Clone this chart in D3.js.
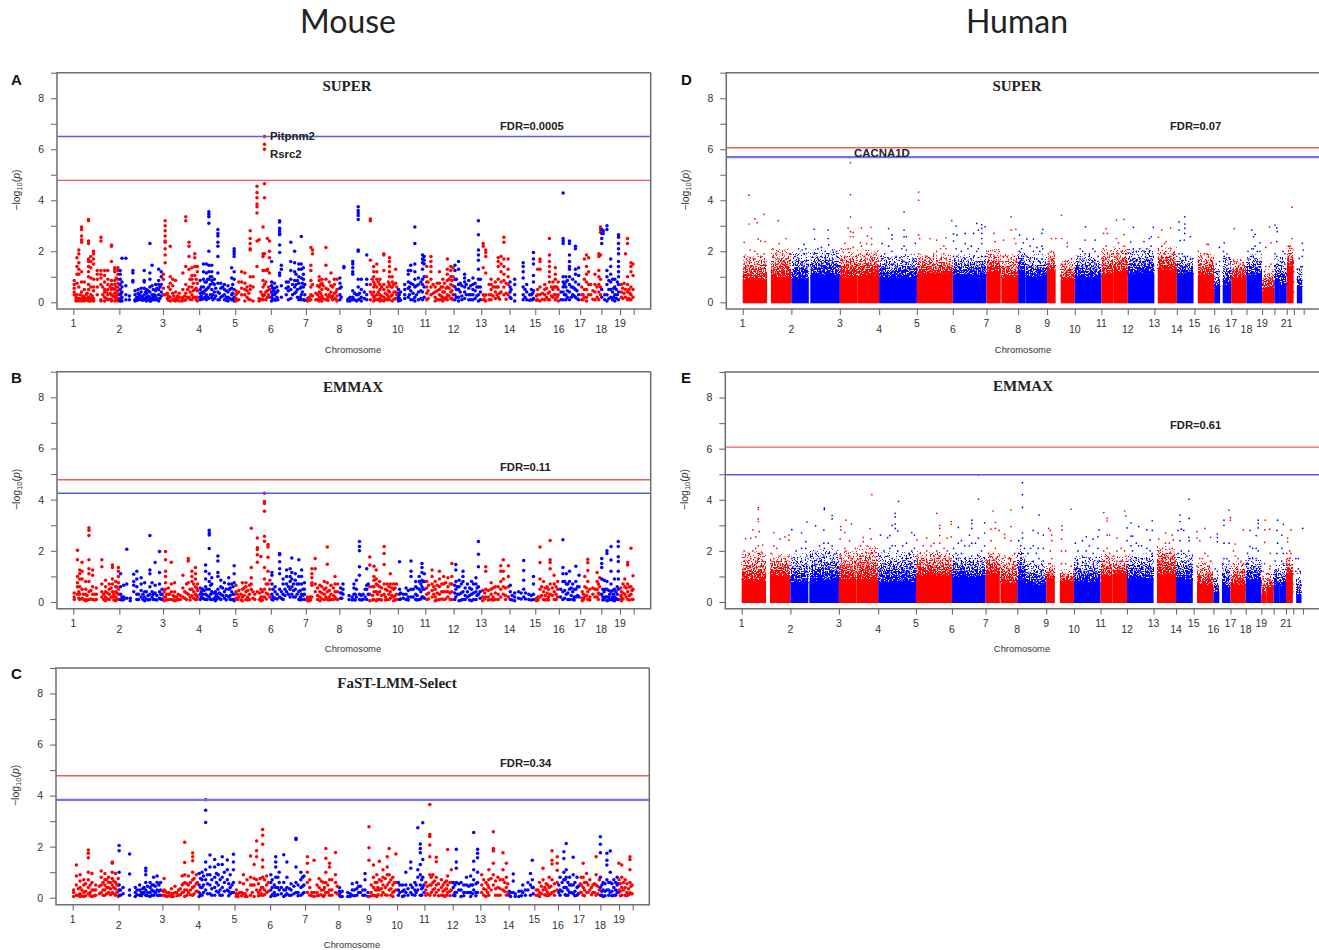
<!DOCTYPE html>
<html lang="en">
<head>
<meta charset="utf-8">
<title>Mouse and human Manhattan plots</title>
<script src="https://d3js.org/d3.v7.min.js"></script>
<style>
  body { margin: 0; background: #fff; }
  text { font-family: "Liberation Sans", Arial, sans-serif; }
</style>
</head>
<body>
<div id="chart"></div>
<script>
// chromosome lengths along the axis, in Mb as spaced in the figure
var mouseLen = [195,185,153,153,151,148,142,129,119,116,120,117,120,109,100,90,90,79,58];
var humanLen = [249,248,201,193,184,172,162,148,142,136,135,136,115,90,101,87,78,80,63,63,37,50];
var mouseLabels = d3.range(1, 20);
var humanLabels = d3.range(1, 22).filter(function (c) { return c != 20; });

// points: [chromosome.fraction, y, y, y ...], one stack per column
var mouseSuper = [
[1.02,.85,.7,.55,.4,.3],[1.06,.2,.1,.05],[1.08,1.75,1.4,1.1,.75,.3,.1],[1.12,2.05,1.9,1.55,1.3,1.1,.6,.15,.05],
[1.18,2.95,2.85,2.6,2.45,2.35,1.2,.8,.4,.15,.05],[1.24,.8,.5,.2,.1,.05],[1.33,3.25,3.2,2.4,2.3,1.7,1.6,1.4,1.2,1,.7,.5,.2,.1,.05],
[1.38,1.8,1.6,1.35,.95,.6,.3,.15,.05],[1.44,2,1.9,1.7,1.5,.9,.6,.45,.15,.05],[1.52,1.25,1.1,.9,.6,.3],[1.6,2.55,2.4,1.25,1.1,.95,.7,.1,.05],
[1.68,1.25,1.05,.8,.5,.4,.2,.05],[1.75,1.25,.9,.7,.5,.3,.1],[1.83,2.25,2.2,1.6,.85,.7,.5,.3,.1,.05],[1.9,1.35,1.3,1.2,.85,.7,.5,.35,.2,.05],
[1.97,1.35,1.25,1.1,.9,.75,.6,.45,.3,.15,.05],
[2.02,1.25,1.1,.9,.7,.5,.3,.15,.05],[2.06,1.73,.8,.6,.4,.2,.05],[2.15,1.73,.65,.3,.1],[2.23,.25,.1],[2.31,1.25,1.15,.85,.8],[2.36,.45,.3,.1,.05],
[2.43,.5,.35,.2,.1],[2.5,.55,.4,.25,.1],[2.57,1.25,.85,.8,.55,.3,.1],[2.62,.5,.35,.2,.05],[2.7,2.3,1.15,.9,.6,.4,.2,.05],[2.75,1.45,.65,.3,.1],
[2.83,.7,.45,.25,.1],[2.9,1.3,.85,.7,.5,.3,.05],[2.96,1.2,1,.7,.4,.25],
[3.01,1.1,.9,.55,.3],[3.06,3.2,3,2.8,2.6,2.4,2.35,2.1,1.85,1.55,.3],[3.12,.35,.15],[3.2,2.2,1,.75,.5,.2,.05],[3.27,.9,.65,.35,.1],[3.35,.85,.4,.15,.05],
[3.45,.35,.2,.05],[3.53,.15,.05],[3.55,1.15,.5,.2],[3.63,3.35,3.2,1.4,.7,.35,.1],[3.72,2.35,2.2,1.8,1.3,.6,.2],[3.8,1.35,1.05,.9,.6,.3,.1],
[3.88,1.9,1.75,1.4,1.05,.5,.2],[3.95,1.4,1.2,.75,.45,.2,.05],
[4.03,.85,.5,.35,.2,.1],[4.12,1.5,1.2,.9,.6,.35,.15],[4.2,1.5,1.15,.8,.5,.3,.1],[4.27,3.55,3.45,3.35,3.1,2,1.45,1.2,.9,.6,.15],[4.35,1.45,1.2,1,.85,.5,.2],
[4.42,.9,.7,.4,.15],[4.52,2.85,2.7,2.6,2.35,2.2,1.8,1.15,.75,.4,.1],[4.6,.75,.55,.2],[4.7,.7,.5,.3,.1],[4.8,.65,.4,.2,.05],[4.9,1.35,.95,.55,.3,.1],
[4.97,2.1,2,1.9,1.8,1.2,.9,.5,.2,.05],
[5.02,.45,.3,.15,.05],[5.1,.8,.4,.1],[5.18,1.2,.8,.55,.3],[5.27,1.15,.75,.5,.3,.05],[5.33,.6,.45,.2],[5.42,2.8,2.5,2.3,2.1,2.05,1,.65,.5,.1],[5.5,1,.6,.05],
[5.61,4.55,4.3,4.1,3.85,3.75,3.5,2.4,1.4],[5.67,2.45,.15,.05],[5.78,2.95,1.9,1.8,1.25,.85,.6,.25,.1],[5.82,6.5,6.2,6,4.65,4.1,1.9,1.25,.7,.3],
[5.9,2.5,1.3,1.25,.45,.2],[5.96,2.4,2,1.75,1.15,.5,.2],
[6.02,1.6,.8,.65,.4,.2,.05],[6.1,.75,.55,.3,.1],[6.17,.6,.4,.2],[6.25,3.2,3.15,2.9,2.8,2.7,2.65,2.25,1.95,1.15,1.05],[6.3,1.45,1.3,.65,.2],[6.44,.8,.55,.3],
[6.5,.8,.6,.45,.1],[6.57,2.35,1.6,1.25,.9,.5,.15],[6.68,2,1.55,1.2,.85,.6,.35],[6.8,1.5,1.3,1,.75,.1],[6.87,2.58,1.5,1.3,.95,.6,.3,.1],[6.93,1.35,1.1,.9,.6,.1],
[7.05,.15,.05,.1],[7.15,2.15,1.45,1.25,.85,.6,.3,.1],[7.2,2.05,1.9,.7,.25],[7.3,.35,.1],[7.4,1,.85,.6,.4,.2,.05],[7.48,.9,.75,.5,.25,.05],[7.6,2.15,1.45,.9,.55,.3,.1],
[7.75,1.15,.65,.4,.2],[7.85,.9,.7,.35,.15],[7.93,.9,.5,.25,.05],
[8.02,.95,.75,.55,.3,.1],[8.15,1.4,1.35],[8.35,.2,.1,.05],[8.44,1.6,1.5,1.35,1.2,1.1,.45,.2,.1],[8.62,3.75,3.6,3.5,3.4,3.25,2.05,2,.9,.6,.3,.1],[8.72,.9,.5,.2,.05],
[8.9,1.85,.9,.7,.3,.1],
[9.02,3.27,3.2,1.65,.7,.4,.1],[9.14,1.4,1.2,1,.8,.6,.4,.2,.05],[9.25,1.5,1.2,.9,.6,.3,.1],[9.36,.9,.7,.5,.3,.15,.05],[9.5,1.9,1.85,1.25,.7,.5,.2,.05],[9.62,.6,.3,.1],
[9.7,1.75,1.6,1.4,1.2,1,.7,.4,.1],[9.8,1,.8,.6,.3,.05],[9.92,1.3,.75,.4,.15],
[10.02,.5,.35,.2,.1,.05],[10.25,.7,.5,.3,.15],[10.38,1.25,1.1,.8,.55,.2],[10.47,1.45,1.25,.75,.45,.1],[10.62,2.95,2.3,1.5,1.2,.9,.6,.2,.05],[10.75,.95,.7,.4,.1],
[10.9,1.85,1.7,1.55,1.3,.9,.7,.4,.1],[10.96,1.8,1.65,1.5,1,.6,.2],
[11.05,1.4,1,.8,.6,.35,.1],[11.2,1.8,1.6,1.4,1.2,.9,.6,.3],[11.35,.6,.4,.2,.05],[11.5,1.2,.75,.5,.3,.1],[11.62,.9,.6,.4,.2,.05],[11.78,1.7,1.3,1.1,.85,.6,.3,.1],
[11.9,1.4,1.25,1,.7,.4,.15],[11.98,1.35,1,.65,.3,.1],
[12.05,1.45,1.25,.9,.6,.3,.1],[12.18,1.6,1.3,.7,.5,.2,.05],[12.4,1.1,.95,.8,.6,.4,.15],[12.55,.85,.55,.3,.1],[12.7,.95,.7,.5,.3,.1],[12.9,3.2,2.65,2.05,1.85,1.65,1.3,.9,.6,.3,.05],[12.97,.9,.6,.4,.1],
[13.07,2.3,2.2,1.35,.3,.1],[13.16,2.05,1.95,1.8,1.15,.3,.05],[13.35,.9,.7,.5,.3,.1],[13.5,.8,.6,.4,.15],[13.6,1.75,1.6,1.4,.9,.6,.2],[13.7,1.8,1.5,1.2,.8,.4],
[13.8,2.55,2.35,1.7,1.4,1.1,.85,.6,.3],[13.95,1.7,1.3,1,.7,.3],
[14.02,.8,.6,.4,.2],[14.2,.9,.7,.3,.05],[14.53,1.55,1.4,1.2,.95,.6,.3,.1],[14.67,.7,.4,.1],[14.85,.5,.3,.1],[14.93,1.95,1.7,1.5,1.05,.8,.45,.15],
[15.1,1.3,.5,.3,.1],[15.2,1.7,1.6,1.3,.6,.3,.05],[15.4,.7,.5,.3,.1],[15.6,2.5,1.85,1.6,1.4,1.2,1,.8,.4,.1],[15.75,.8,.5,.2],[15.85,1.35,1.1,.9,.6,.3,.1],[15.97,.8,.5,.3,.05],
[16.2,4.28,2.5,2.4,2.3,1,.8,.6,.4,.1],[16.33,1,.8,.6,.3,.1],[16.5,2.4,2.3,1.85,1.6,1.4,1.3,1,.7,.4,.1],[16.65,.9,.6,.3],[16.78,2.2,2.1,1.3,1.1,.8,.5,.2],[16.93,1.35,1.05,.7,.3,.1],
[17.08,.6,.3,.1],[17.2,1.7,.9,.5,.2],[17.3,1.85,1.4,1.1,.8,.5,.2,.05],[17.4,1.75,1.2,.7,.3],[17.7,1.1,.7,.4,.1],[17.88,1.9,1.8,1.25,1,.7,.4,.1],[17.96,2.95,2.85,2.75,1.85,.9,.6,.3],
[18.02,2.85,2.7,2.5,2.3,.5,.2],[18.1,2.8,2.7],[18.3,3,2.85,1.25,1,.7,.3,.05],[18.5,1.7,1.4,1.1,.8,.5,.2],[18.72,.9,.6,.3,.05],[18.92,2.65,2.55,2.3,2.1,1.9,1.6,1.4,1.2,1,.7,.4,.1],
[19.1,.7,.4,.2],[19.4,1.9,.5,.2],[19.55,2.5,2.3,1,.7,.4,.1],[19.8,1.55,1.4,1.2,.6,.3,.1],[19.95,1.5,1.05,.5,.2]
];

// lower cloud of panel A, read between the stacks above
var mouseSuperLow = [
[1.15,.3,.1],[1.21,.25,.12],[1.28,.3,.08],[1.3,.15,.35],[1.41,.25,.1],[1.64,.6,.3],[1.72,.4,.15],[1.8,.6,.35,.12],[1.86,.55,.25],[1.93,.95,.6,.25,.1],[1.95,.4,.15],
[2.04,.35,.1],[2.4,.2,.08],[2.46,.3,.12],[2.53,.2,.08],[2.6,.4,.15],[2.66,.45,.25,.1],[2.72,.15,.05],[2.78,.5,.2],[2.8,.3,.1],[2.86,.55,.15],[2.93,.6,.15],
[3.15,.6,.25,.08],[3.3,.25,.08],[3.4,.25,.1],[3.6,.25,.08],[3.68,.5,.2],[3.75,.9,.4,.12],[3.84,.75,.45,.2],[3.92,.9,.55,.1],
[4.06,.6,.25],[4.09,.4,.12],[4.16,.8,.45,.2],[4.24,.9,.55,.2],[4.31,1,.7,.3],[4.38,.75,.3,.1],[4.46,.55,.25],[4.56,.35,.1],[4.65,.6,.25],[4.75,.45,.2,.08],[4.85,.5,.15],[4.93,.7,.35,.12],
[5.05,.35,.1],[5.38,.35,.12],[5.72,.4,.1],[5.76,.3,.12],[5.86,.8,.4,.1],[5.94,.6,.3],
[6.05,.55,.3,.1],[6.08,.45,.12],[6.13,.35,.08],[6.2,.45,.1],[6.62,.7,.3],[6.72,1.1,.7,.4],[6.76,.85,.5,.2],[6.84,.55,.2],[6.9,.75,.4],[6.97,.7,.3,.08],
[7.1,.2,.08],[7.35,.65,.3,.1],[7.44,.7,.35,.12],[7.52,.65,.15],[7.66,.5,.2,.08],[7.7,.8,.3],[7.8,.6,.25,.1],[7.9,.4,.12],
[8.06,.6,.2],[8.28,.12,.05],[8.5,.35,.1],[8.56,.3,.05],[8.66,.35,.12],[8.82,.4,.15],
[9.08,.9,.3],[9.18,.7,.25,.1],[9.3,.8,.4,.12],[9.42,.6,.25,.08],[9.55,.35,.12],[9.66,.8,.45,.2],[9.75,.6,.25],[9.86,.7,.4,.12],[9.96,.6,.3],
[10.05,.3,.15],[10.1,.4,.08],[10.42,.6,.3],[10.55,.7,.35,.1],[10.68,.65,.3],[10.84,.8,.45,.15],
[11.1,.8,.45,.15],[11.28,.7,.35],[11.42,.75,.45,.1],[11.56,.6,.25,.1],[11.68,.75,.4,.12],[11.74,.55,.2],[11.84,.9,.55,.25],[11.94,.85,.45,.15],
[12.1,.9,.5,.2],[12.24,.75,.4],[12.3,.65,.25,.1],[12.46,.7,.3],[12.62,.65,.3,.1],[12.78,.75,.45,.15],[12.84,.6,.25],
[13.12,.25,.1],[13.28,.7,.3,.1],[13.42,.6,.25],[13.56,.6,.3],[13.65,.35,.12],[13.88,.75,.35,.12],
[14.06,.5,.15],[14.6,.5,.2],[14.78,.3,.08],[14.9,.35,.1],
[15.05,.25,.08],[15.3,.35,.12],[15.48,.55,.2],[15.55,.35,.1],[15.68,.6,.25],[15.8,.6,.3],[15.92,.6,.2],
[16.1,.4,.1],[16.26,.7,.3],[16.4,.85,.45,.2],[16.58,.6,.2],[16.72,.55,.25],[16.85,.45,.15],
[17.14,.3,.1],[17.5,.7,.3],[17.6,.45,.12],[17.8,.6,.2],
[18.18,.3,.1],[18.4,.85,.5,.15],[18.6,.9,.4,.1],[18.66,.55,.2],[18.8,.5,.15],[18.86,.8,.3],
[19.2,.55,.15],[19.3,.75,.35],[19.65,.5,.15],[19.72,.35,.1]
];

var mouseEmmax = [
[1.02,.35,.2,.1],[1.09,2.02,1.65,1,.75,.6,.3],[1.14,1.25,1.1,.9,.6,.3,.1],[1.19,1.55,1.2,.9,.5,.15],[1.27,.8,.5,.3,.1,.05],[1.34,2.9,2.8,2.6,1.65,1.3,1.1,.8,.4,.1],
[1.42,1.25,1.05,.6,.3,.1],[1.5,.55,.3,.1],[1.62,1.65,1.38,.7,.4,.2],[1.7,.85,.6,.4,.2,.05],[1.78,.7,.5,.3,.1],[1.85,1.45,1.35,.9,.7,.4,.2],[1.92,.8,.6,.4,.2,.05],[1.98,1.35,1.2,1,.75,.5,.3,.1],
[2.03,1.1,.6,.3,.1],[2.1,.65,.2,.1],[2.17,2.06,.7,.15],[2.25,.15,.05],[2.33,1.08,.8,.65,.4],[2.4,1.2,.9,.6,.3,.1],[2.5,.95,.7,.45,.2],[2.58,.75,.4,.2,.05],[2.7,2.6,1.25,1.1,.6,.3,.1],
[2.75,.75,.4,.2],[2.82,1.54,.65,.35,.1],[2.92,1.97,1.15,.7,.4,.15],[2.98,.5,.3,.1],
[3.03,.4,.2,.05],[3.07,1.97,1.65,1.2,1,.75,.5,.2],[3.15,.55,.3,.1],[3.23,1.55,.7,.4,.1],[3.32,.75,.4,.2,.05],[3.42,.3,.1],[3.55,1.05,.55,.2],[3.65,.7,.35,.1],[3.7,1.7,1.6,.75,.3],
[3.8,1.2,1,.8,.5,.25],[3.9,1.35,1.1,.9,.6,.3,.1],[3.96,.7,.45,.2],
[4.03,.55,.3,.1],[4.1,.5,.3,.15],[4.18,1.45,1.2,.9,.6,.3,.1],[4.28,2.8,2.7,2.62,2.09,1.1,.8,.5,.2],[4.35,.95,.7,.4,.1],[4.45,.4,.2,.05],[4.52,1.8,1.6,1.15,1,.5,.2],
[4.6,.85,.6,.3,.1],[4.7,.75,.4,.15],[4.82,.95,.7,.5,.2],[4.9,.7,.4,.1],[4.97,1.42,1.1,.75,.3,.05],
[5.02,.65,.4,.15],[5.1,.45,.2],[5.2,.75,.5,.2,.05],[5.3,.75,.6,.4,.1],[5.4,.65,.3,.1],[5.45,2.88,1.35,.95,.7,.5],[5.55,.3,.1],[5.62,2.5,2.12,2.05,1.85,1.55,.4],
[5.72,1.78,.5,.2,.05],[5.82,4.25,3.93,3.85,3.55,2.57,2.37,1.35,.9,.5,.2],[5.92,2.25,2.15,1.75,1.2,.7,.3],[5.97,.85,.5,.2],
[6.03,1.15,1.05,.7,.3,.1],[6.12,.6,.4,.15],[6.25,1.9,1.85,1.57,1.3,1.1,.5,.2],[6.35,.9,.7,.3,.1],[6.45,1.25,1,.7,.4],[6.55,1.3,1,.8,.5,.2],[6.6,1.72,1.15,.9,.6,.3],[6.7,1.1,.85,.5,.2],
[6.8,1.65,1,.7,.4,.1],[6.88,1.25,1,.7,.3,.1],[6.96,.75,.5,.3,.1],
[7.05,.2,.1,.05],[7.18,1.3,1.1,.95,.75,.65,.2],[7.28,1.7,1.3,.7,.4],[7.42,.65,.4,.2,.05],[7.55,.8,.5,.3,.1],[7.64,2.15,1.48,.75,.4,.1],[7.75,.65,.3,.1],[7.87,1,.7,.4,.2],[7.95,.7,.4,.1],
[8.04,.55,.35,.15],[8.12,.7,.5,.3],[8.32,.25,.1],[8.48,.7,.55,.3,.1],[8.56,.85,.5,.2],[8.66,2.36,2.17,2,1.38,1.05,.3,.1],[8.78,.3,.1],[8.9,1.3,.65,.5,.1],
[9,1.76,1.45,.6,.3,.05],[9.15,1.4,1,.85,.6,.4,.1],[9.23,1.25,.9,.7,.4,.05],[9.35,.8,.6,.4,.1],[9.51,2.17,1.9,1.47,.7,.3],[9.62,.7,.45,.1],[9.73,1.1,.7,.4,.15],[9.85,.7,.5,.2,.05],[9.95,.7,.3,.1],
[10.06,1.57,.5,.3,.1],[10.3,.55,.3,.1],[10.48,1.6,1.2,1,.5,.2],[10.65,.8,.6,.3,.1],[10.78,1,.8,.5,.1],[10.88,1.5,1.35,1.15,.85,.6,.2],[10.97,1.1,.8,.5,.15],
[11.05,.8,.55,.3,.1],[11.24,1.25,1,.7,.45,.2],[11.35,.8,.5,.2,.05],[11.5,1.2,.9,.6,.3,.1],[11.65,1,.7,.4,.1],[11.8,.95,.6,.4,.2],[11.94,1.5,1,.7,.4,.1],
[12.08,1.47,1.25,.8,.5,.2],[12.2,.85,.6,.3,.05],[12.34,1.2,1,.8,.4,.1],[12.5,.7,.4,.2],[12.65,.8,.5,.3,.05],[12.81,.95,.7,.4,.1],[12.9,2.36,1.87,1.38,.6,.3],
[13.05,.45,.2,.05],[13.16,1.38,1.2,.5,.2],[13.35,.75,.5,.3,.1],[13.5,.6,.35,.1],[13.69,1.42,1.2,.8,.5,.2],[13.78,1.65,1.2,.9,.6,.3],[13.96,1.42,1,.6,.2],
[14.03,.65,.4,.1],[14.2,.35,.2,.05],[14.35,.4,.15],[14.55,1.62,1.23,.85,.5,.2],[14.75,.3,.1],[14.93,1,.7,.3,.1],
[15.05,.15,.05],[15.2,2.15,1.54,.9,.5,.2],[15.35,.8,.4,.1],[15.5,.6,.35,.1],[15.63,2.4,1.65,1.54,1.3,.7,.3],[15.8,1.05,.7,.4,.1],[15.95,.8,.5,.2],
[16.19,2.43,1.35,1.1,.8,.4,.1],[16.35,1.1,.7,.3],[16.5,1.2,.8,.5,.1],[16.65,.7,.4,.1],[16.8,1.4,.8,.5,.2],[16.95,1.05,.6,.2],
[17.1,.4,.15,.05],[17.22,1,.6,.2],[17.36,1.67,1.53,1.23,.8,.4,.1],[17.6,.55,.3],[17.8,1.15,.8,.5,.2],[17.92,.95,.6,.3],
[18.02,1.7,1.5,1.35,.9,.3],[18.15,.85,.4,.1],[18.3,2,1.9,.8,.5,.2,.05],[18.52,2.17,1.64,1.2,.7,.4,.1],[18.7,.9,.5,.2,.05],[18.91,2.36,2.17,1.77,1.58,1.2,.9,.5,.1],
[19.1,.4,.2,.05],[19.35,.9,.6,.3],[19.56,1.54,1.45,.7,.4,.1],[19.8,2.1,.6,.3],[19.95,1.03,.5,.1]
];

var mouseEmmaxLow = [
[1.12,.4,.15],[1.22,.3,.1],[1.3,.25,.08],[1.38,.45,.12],[1.46,.3,.08],[1.66,.3,.1],[1.74,.35,.12],[1.82,.55,.2],[1.88,.3,.08],[1.95,.6,.35,.12],
[2.06,.2,.08],[2.44,.3,.1],[2.54,.3,.1],[2.62,.4,.12],[2.66,.25,.08],[2.78,.3,.1],[2.86,.25,.08],[2.95,.3,.12],
[3.1,.3,.08],[3.18,.3,.1],[3.28,.25,.08],[3.38,.2,.08],[3.48,.25,.1],[3.6,.4,.15],[3.75,.5,.2,.08],[3.85,.7,.4,.15],[3.93,.55,.25,.1],
[4.06,.4,.2],[4.14,.45,.12],[4.22,.5,.25,.1],[4.32,.65,.3,.1],[4.4,.35,.12],[4.48,.3,.1],[4.56,.35,.15],[4.65,.55,.25],[4.75,.5,.25,.08],[4.86,.55,.25,.1],[4.94,.6,.3,.1],
[5.06,.3,.1],[5.16,.3,.08],[5.25,.55,.25],[5.35,.45,.2,.08],[5.5,.4,.15],[5.68,.35,.1],[5.76,.4,.2,.08],[5.87,.7,.35,.12],
[6.06,.5,.2,.08],[6.18,.3,.12],[6.3,.4,.15],[6.4,.5,.25],[6.5,.6,.3],[6.65,.7,.45,.2],[6.75,.7,.3],[6.84,.45,.2,.08],[6.92,.5,.25],
[7.1,.15,.05],[7.14,.2,.08],[7.35,.55,.25,.1],[7.48,.6,.35,.12],[7.6,.55,.2],[7.7,.45,.2,.08],[7.82,.55,.25,.1],[7.9,.4,.12],
[8.08,.35,.15],[8.42,.2,.08],[8.52,.3,.08],[8.72,.25,.08],[8.85,.5,.2],[8.95,.7,.3],
[9.1,.6,.25,.08],[9.28,.65,.3,.1],[9.42,.55,.25,.08],[9.56,.5,.2,.08],[9.68,.6,.3,.1],[9.78,.55,.25],[9.9,.55,.25,.08],
[10.1,.35,.12],[10.2,.15,.3],[10.38,.45,.2,.08],[10.56,.5,.2],[10.7,.55,.25,.08],[10.84,.7,.4,.12],[10.92,.8,.5,.2],
[11.12,.65,.35,.12],[11.3,.6,.3],[11.42,.65,.35,.08],[11.58,.7,.4,.12],[11.72,.75,.4,.12],[11.88,.7,.35,.1],
[12.04,.65,.35,.1],[12.14,.6,.3],[12.28,.7,.35,.08],[12.42,.55,.25,.1],[12.58,.55,.25,.08],[12.72,.7,.35,.1],[12.85,.55,.25],[12.96,.4,.15],
[13.12,.35,.12],[13.25,.45,.2,.08],[13.42,.55,.2,.08],[13.6,.6,.3,.1],[13.86,.55,.25,.1],
[14.1,.25,.08],[14.45,.35,.12],[14.62,.35,.12],[14.85,.25,.08],
[15.12,.2,.08],[15.27,.6,.25],[15.42,.55,.25,.08],[15.56,.5,.2,.08],[15.72,.55,.25],[15.88,.6,.3,.1],
[16.08,.5,.2],[16.27,.8,.45,.15],[16.42,.7,.35,.1],[16.58,.55,.25],[16.72,.5,.2,.08],[16.88,.6,.25],
[17.16,.3,.1],[17.3,.55,.25],[17.46,.5,.2,.08],[17.7,.5,.2],[17.86,.7,.35,.1],
[18.08,.5,.2,.08],[18.22,.5,.2],[18.4,.45,.2,.08],[18.45,.3,.12],[18.6,.45,.2,.08],[18.65,.3,.1],[18.78,.4,.15],[18.85,.6,.3,.1],
[19.05,.55,.25,.1],[19.22,.7,.35,.12],[19.45,.55,.2],[19.68,.6,.25,.08],[19.88,.45,.1]
];

var mouseFast = [
[1.02,.3,.2,.05],[1.08,1.28,.85,.5,.1],[1.16,.9,.65,.4,.15,.05],[1.24,.7,.5,.2,.05],[1.34,1.87,1.74,1.57,1,.7,.4,.15],[1.42,.95,.6,.3,.05],[1.5,.5,.3,.1],[1.62,1.05,.8,.5,.2],
[1.7,.95,.7,.5,.3,.1],[1.78,.8,.6,.4,.2],[1.86,1.4,1.35,1,.75,.5,.2],[1.93,.95,.6,.35,.1],[1.99,.75,.5,.25,.05],
[2.01,2.05,1.84,1,.5,.3,.1],[2.1,.4,.15],[2.25,1.71,.93,.3,.1],[2.38,.4,.2,.05],[2.48,.5,.3,.1],[2.55,.35,.15],[2.62,1.15,1.05,.9,.6,.3,.1],[2.72,.6,.4,.2,.05],[2.8,.8,.5,.25,.1],[2.88,.85,.6,.3,.1],[2.96,.6,.3,.1],
[3.05,.75,.3,.1],[3.12,.2,.05],[3.25,.35,.15,.05],[3.35,.45,.2],[3.45,.3,.1],[3.55,.85,.5,.2],[3.62,2.17,1.38,.9,.6,.3,.05],[3.72,.85,.5,.2],[3.84,1.75,1.6,1.45,1,.7,.4,.1],[3.94,.9,.55,.25],
[4.02,.95,.5,.2,.05],[4.1,1,.7,.4,.1],[4.2,3.84,3.43,2.95,1.4,1.1,.7,.3],[4.32,1.67,1.2,.9,.5,.15],[4.45,1.5,1.2,.8,.4,.1],[4.55,1.3,.9,.5,.2],[4.66,1.6,1.3,.8,.4,.1],[4.8,1.48,1.1,.7,.3],[4.88,.9,.4,.15],[4.97,1.7,1.4,1.1,.6,.2],
[5.05,.3,.15,.05],[5.15,.6,.2],[5.25,.9,.55,.15],[5.35,.7,.3,.05],[5.45,1.63,.8,.5,.1],[5.55,1.3,.75,.5,.05],[5.62,2.22,1.84,1.6,.7,.3],[5.72,.75,.3,.1],[5.79,2.67,2.45,2.09,1.48,1.2,.8,.4,.1],[5.9,.85,.5,.2],
[6.02,.9,.6,.3,.05],[6.16,1.6,1.4,1.2,.8,.4,.1],[6.26,1,.6,.3],[6.39,1.68,.6,.3,.05],[6.48,1.4,.8,.4,.15],[6.6,.55,.3,.1],[6.74,2.33,2.28,1.2,.6,.2],[6.88,1,.7,.4,.1],[6.97,.85,.5,.2],
[7.07,1.6,1.35,1,.6,.2],[7.14,.7,.4,.1],[7.27,1.47,.2,.05],[7.42,.75,.4,.1],[7.55,.6,.3,.05],[7.62,1.93,1.55,1,.6,.2],[7.73,1.35,1.2,.7,.3,.1],[7.91,1.77,.9,.6,.2],
[8.03,.4,.25,.1],[8.12,.25,.05],[8.3,.2,.05],[8.45,.55,.3,.1],[8.6,.6,.35,.1],[8.72,.45,.2],[8.87,.95,.7,.3,.1],[8.97,.2,.05],
[9,2.78,1.96,1.47,.05],[9.16,1.28,.8,.4,.1],[9.28,.9,.6,.3,.05],[9.37,1.43,.7,.3],[9.5,1.1,.8,.5,.2],[9.65,1.6,1.2,.9,.5,.1],[9.72,1.93,.9,.6,.3],[9.85,.8,.5,.2,.05],[9.96,1.71,.6,.3],
[10.05,.6,.3,.1],[10.2,.5,.25,.05],[10.32,1,.5,.2],[10.5,1.4,1.15,.5,.2],[10.65,.6,.3,.1],[10.76,2.74,1.1,.8,.3],[10.85,2.1,1.93,1.76,1.3,.9,.5,.1],[10.94,2.94,1.5,.8,.4],
[11.05,.6,.3,.1],[11.19,3.65,2.48,2.4,2.06,1.6,.9,.5,.1],[11.3,.9,.6,.3],[11.42,1.58,1.41,.8,.5,.2],[11.6,.7,.4,.1],[11.72,.6,.3,.05],[11.82,1.89,.85,.5,.2],[11.95,1.1,.6,.3],
[12.02,.6,.4,.1],[12.13,1.9,1.4,1.15,.6,.2],[12.3,.6,.3,.05],[12.5,.8,.5,.2],[12.65,.85,.5,.2,.05],[12.76,2.55,1.43,1.1,.7,.3],[12.9,1.9,1.74,1.57,1,.6,.2],
[13.05,.9,.5,.2],[13.2,.6,.3,.05],[13.3,1.1,.7,.4,.1],[13.46,2.58,1.93,1.83,1.35,.9,.5],[13.62,.8,.4,.1],[13.8,1.76,1.1,.7,.3],[13.92,1.35,.8,.4,.1],
[14.02,.25,.1],[14.18,.93,.65,.2],[14.4,.25,.05],[14.55,.5,.2],[14.75,.6,.3],[14.85,.95,.5,.1],[14.92,1.47,.7,.4],
[15.08,.3,.1],[15.22,.6,.2,.05],[15.37,1.15,.7,.3],[15.5,.55,.3,.1],[15.63,.8,.4,.1],[15.75,1.84,1.47,1.32,.7,.2],[15.97,1.6,1.35,1.08,.6,.3],
[16.1,.8,.3,.1],[16.28,1.8,1.54,1,.7,.4],[16.39,2.12,1.1,.8,.4,.1],[16.55,.8,.5,.2],[16.72,1.58,.9,.5,.15],[16.9,.8,.4,.1],
[17.1,.8,.5,.2],[17.19,1.35,.8,.4,.1],[17.35,.95,.6,.2],[17.5,.7,.3],[17.65,.5,.2],[17.8,1.6,.9,.5,.1],[17.95,.7,.3],
[18,2.39,2.09,1.76,.8,.4,.1],[18.15,.6,.3,.05],[18.35,1.74,1.47,1.28,.7,.3],[18.53,1.83,1,.6,.2],[18.72,.7,.4,.1],[18.9,.8,.5,.2],
[19,1.35,.7,.3],[19.2,1.28,.8,.4,.1],[19.45,.7,.4,.1],[19.8,1.6,1.5,1.1,.6,.2],[19.95,.5,.15]
];

var mouseFastLow = [
[1.12,.35,.1],[1.2,.3,.08],[1.28,.55,.25,.08],[1.38,.5,.2,.08],[1.46,.3,.08],[1.58,.45,.15],[1.66,.6,.3,.1],[1.74,.7,.4,.15],[1.82,.6,.35,.12],[1.89,.65,.4,.15],[1.96,.5,.2],
[2.04,.3,.1],[2.42,.3,.12],[2.52,.2,.08],[2.58,.4,.2],[2.66,.45,.2,.08],[2.76,.5,.3,.1],[2.84,.45,.2],[2.92,.5,.25,.1],
[3.02,.25,.1],[3.08,.25,.08],[3.18,.2,.08],[3.3,.15,.05],[3.4,.2,.08],[3.5,.35,.12],[3.58,.55,.2],[3.68,.55,.3,.1],[3.78,.6,.3,.12],[3.88,.75,.45,.15],[3.97,.6,.25],
[4.06,.75,.4,.12],[4.14,.85,.5,.2],[4.25,.9,.55,.15],[4.37,.7,.35,.1],[4.5,.95,.6,.25],[4.6,.7,.3,.1],[4.72,1,.6,.25],[4.84,.55,.25,.08],[4.93,.5,.2],
[5.1,.15,.05],[5.2,.2,.08],[5.3,.15,.05],[5.5,.5,.2],[5.67,.55,.2,.08],[5.76,.4,.15],[5.84,.7,.3,.12],[5.95,.6,.25],
[6.06,.7,.4,.12],[6.12,.5,.2,.08],[6.22,.8,.4,.12],[6.32,.4,.15],[6.44,.3,.1],[6.55,.35,.1],[6.68,.45,.15],[6.8,.5,.2,.08],[6.93,.8,.45,.15],
[7.2,.2,.08],[7.36,.5,.2,.08],[7.48,.65,.3,.12],[7.58,.4,.1],[7.68,.5,.2],[7.8,.7,.3,.1],[7.96,.45,.15],
[8.06,.2,.05],[8.38,.15,.05],[8.52,.3,.08],[8.66,.45,.2],[8.8,.3,.1],
[9.08,.5,.2,.08],[9.22,.6,.3,.08],[9.32,.4,.12],[9.44,.65,.35,.1],[9.58,.75,.4,.12],[9.78,.7,.35,.1],[9.9,.6,.25],
[10.1,.5,.2],[10.26,.3,.08],[10.4,.35,.1],[10.56,.4,.12],[10.7,.5,.2],[10.9,.7,.35,.1],[10.98,.5,.2],
[11.1,.45,.15],[11.24,.8,.5,.2],[11.36,.65,.35,.1],[11.5,.55,.3,.08],[11.66,.5,.25,.1],[11.78,.65,.35,.1],[11.9,.6,.25,.08],
[12.08,.5,.2,.08],[12.22,.55,.3],[12.4,.5,.2,.08],[12.58,.45,.2],[12.72,.5,.15],[12.84,.55,.2,.08],
[13.12,.7,.35,.1],[13.26,.5,.2],[13.38,.75,.3],[13.54,.65,.35,.1],[13.7,.7,.35,.1],[13.86,.6,.25],[13.97,.55,.2],
[14.08,.2,.05],[14.26,.15,.05],[14.5,.25,.08],[14.65,.3,.1],[14.96,.4,.15],
[15.15,.3,.1],[15.3,.45,.15],[15.44,.4,.12],[15.56,.5,.2,.08],[15.7,.45,.15],[15.85,.55,.25,.1],
[16.04,.5,.2],[16.2,.6,.25],[16.34,.7,.4,.12],[16.47,.6,.3,.1],[16.63,.5,.2],[16.8,.6,.25,.08],[16.96,.45,.15],
[17.05,.55,.2],[17.25,.6,.3,.08],[17.42,.5,.2],[17.58,.4,.12],[17.72,.55,.2],[17.88,.45,.15],
[18.08,.5,.25,.1],[18.25,.55,.25,.08],[18.45,.6,.3,.1],[18.62,.55,.25,.08],[18.82,.6,.3,.1],[18.96,.55,.2],
[19.1,.55,.25,.08],[19.33,.6,.3],[19.58,.55,.2,.08],[19.7,.35,.12],[19.88,.45,.15]
];

// human dense part: [from, to, top of solid mass, top of thinning scatter]
var humanSuperBands = [
[1,1.5,1,1.9],[1.58,2,1.1,2.1],[2,2.36,1.05,2],[2.39,3,1.2,2.1],[3,3.45,1.1,2.1],[3.45,4,1.15,2.1],[4,5,1.1,1.9],[5,6,1.25,1.9],[6,7,1.2,1.9],
[7,7.45,1.3,2.1],[7.47,8,1.1,1.9],[8,8.25,1.35,2.1],[8.25,9,1.1,1.9],[9,9.31,1.4,2],[9.49,10,1,1.7],[10,11,1.1,1.9],[11,11.45,1.25,2.1],[11.45,12,1.3,2.2],
[12,13,1.25,2.1],[13.15,14,1.4,2.2],[14,14.95,1.25,1.8],[15.17,16,1.2,2],[16,16.35,.65,1.5],[16.5,17,.8,1.9],[17,18,1.1,1.7],[18,19,1.2,1.9],
[19,19.4,.55,1.3],[19.4,20,.7,1.3],[20,20.45,1,1.8],[20.45,21,.8,1.8],[21,21.95,1.5,2.2],[22.3,22.85,.75,1.4]
];
var humanEmmaxBands = [
[1,1.5,.95,2],[1.58,2,1.15,1.9],[2,2.37,.9,1.9],[2.39,3,.95,2.1],[3,3.45,1,2],[3.45,4,1,2.2],[4,5,.9,2],[5,6,1.15,2],[6,7,1.1,1.9],
[7,7.45,1.2,2],[7.47,8,.85,1.9],[8,8.3,1,2.1],[8.3,9,.8,1.6],[9,9.31,1.05,1.5],[9.49,10,.95,1.3],[10,11,.9,1.8],[11,11.45,1.15,1.9],[11.45,12,1.2,1.8],
[12,13,1.05,1.9],[13.15,14,1.2,2.2],[14,14.95,1,1.9],[15.17,16,.8,1.6],[16,16.35,.5,1.1],[16.5,17,.7,1.6],[17,18,.8,1.6],[18,19,1,1.8],
[19,19.4,.4,1.2],[19.4,20,.7,1.2],[20,20.45,.8,1.5],[20.45,21,.75,1.5],[21,21.95,1.2,1.8],[22.3,22.85,.4,1.2]
];

var humanSuperDots = [
[1.03,2.35,1.8,1.5],[1.08,1.7,1.4],[1.13,4.2,3.07,1.6],[1.15,2.05,1.75],[1.25,3.27,2,1.7],[1.3,3.12,1.9,1.5],[1.32,2.48,1.6],[1.37,2.4,1.8,1.3],[1.44,3.45,1.9,1.6],[1.46,2.38,1.5],
[1.62,2.1,1.8,1.4],[1.68,1.9,1.5],[1.73,3.2,2,1.6],[1.75,2.3,1.7],[1.82,1.9,1.5],[1.89,2.5,1.7,1.4],[1.96,1.9,1.6],
[2.08,1.8,1.5,1.2],[2.15,2.1,1.7],[2.22,2.05,1.5],[2.26,2.27,1.9,1.4],[2.3,2.1,1.6],[2.47,2.86,1.9,1.4],[2.48,2.48,1.6],[2.55,2.1,1.7,1.3],[2.62,2.15,1.8,1.5],[2.7,2,1.7,1.35],[2.76,2.83,2.5,1.9,1.5],[2.77,2.25,1.6],[2.85,2.05,1.7],[2.93,2,1.6,1.4],
[3.04,2.1,1.7,1.3],[3.13,2.31,1.8],[3.21,2.91,2.1,1.6],[3.27,5.68,5.47,4.22,3.34,2.77,2.57,2.1,1.7,1.3],[3.34,2.74,2.57,2.15,1.6],[3.42,1.8,1.4],[3.52,2.33,1.9,1.5],[3.55,2.91,2.2,1.6],[3.62,1.8,1.4],[3.68,2.3,1.9,1.5],[3.7,2.6,1.7],[3.79,2.94,1.8,1.5],[3.81,2.5,2.27,1.7],[3.92,1.9,1.4],
[4.08,2.3,1.7,1.3],[4.15,1.9,1.5],[4.25,2.89,2.2,1.7],[4.34,2.64,2.48,2,1.5],[4.45,1.8,1.4],[4.55,1.75,1.3],[4.6,2.1,1.6],[4.66,3.54,2.83,2.57,2.2,1.6],[4.72,2.57,2.05,1.5],[4.8,1.6,1.3],[4.9,1.7,1.4],[4.96,2.31,1.6],
[5.05,4.32,4,2.64,1.9,1.5],[5.08,2.5,1.7],[5.18,1.6,1.4],[5.28,1.8],[5.37,2.5,1.7,1.4],[5.47,1.9,1.5],[5.55,2.44,2,1.6],[5.66,2.1,1.7],[5.75,2.2,1.9,1.5],[5.81,2.53,2.1,1.7],[5.97,3.2],
[6.02,2.68,2.4,1.8],[6.1,2.99,2.1,1.5],[6.12,2.64,1.8],[6.25,2,1.6],[6.37,2.7,2.3,1.7],[6.45,2.1,1.5],[6.55,2.2,1.7],[6.62,2.7,1.8,1.5],[6.71,3.09,2,1.6],[6.76,2.83,2.1],[6.86,3.04,2.9,2.7,2.5,2.3,1.8],[6.96,2.96,1.8],
[7.06,2,1.6],[7.24,2.7,1.8],[7.27,2.38,2],[7.4,2,1.6],[7.54,2.44,1.8],[7.65,1.8,1.4],[7.78,3.35,2.83,1.7],[7.88,2.5,1.8],[7.93,2.86,2.3,1.6],
[8.05,2.64,2,1.6],[8.12,2.1,1.7],[8.18,2.33,1.8],[8.3,2.48,1.8,1.4],[8.42,2.2,1.7],[8.53,2.48,2,1.6],[8.65,2.15,1.7,1.4],[8.75,2,1.6],[8.82,2.7,2.2,1.7],[8.85,2.86,2.1],
[9.05,1.9,1.6],[9.16,2.5,2,1.7],[9.25,1.9,1.6],[9.32,2.5],[9.52,3.41,1.5],[9.53,2.5],[9.65,1.6,1.3],[9.73,2.33,2.18,1.6],[9.88,1.7,1.4],
[10.12,1.8,1.4],[10.2,2.1,1.7],[10.3,2,1.6],[10.39,2.44,1.9,1.5],[10.4,2.96],[10.55,1.9,1.5],[10.68,2.1,1.6],[10.76,2.44,2,1.5],[10.88,1.8,1.4],
[11.08,2.7,2.1,1.7],[11.18,2.89,2.2,1.7],[11.23,2.7,1.9],[11.4,1.9,1.6],[11.57,3.22,2.5,1.8],[11.65,2.33,1.9,1.6],[11.78,2,1.6],[11.86,3.25,2.65,2.2,1.7],[11.96,1.9,1.6],
[12.11,2.36,1.9,1.5],[12.21,2.94,2.1,1.7],[12.32,2,1.6],[12.45,2.1,1.7],[12.61,2.38,2,1.6],[12.72,2.1,1.7],[12.81,2.5,2,1.6],[12.88,2.57,2.2,1.7],[12.96,2.94,1.8],
[13.18,2.55,2.1,1.7],[13.33,2.83,2.2,1.8],[13.45,2.3,1.9],[13.52,2.38,2,1.7],[13.72,2.92,2.1,1.8],[13.85,1.9,1.6],
[14.13,3.15,2.83,1.9,1.5],[14.19,2.42,1.7],[14.3,1.9,1.6],[14.42,2.44,1.8],[14.45,3.35,3.07,2.9,2.7],[14.6,1.8,1.5],[14.77,2.57,1.7],[14.88,1.7,1.4],
[15.2,2,1.6],[15.35,1.8,1.5],[15.5,1.9,1.6],[15.63,2.28,1.9,1.6],[15.71,2.27,1.8],[15.85,1.6,1.4],
[16.12,1.5,1.2],[16.31,2.15,1.6,1.2],[16.55,2,1.6],[16.59,2.33,1.8],[16.75,1.9,1.3],[16.9,1.7,1.2],
[17.2,2.89,1.6],[17.4,1.6,1.3],[17.6,1.5,1.3],[17.8,1.5,1.3],
[18.1,2,1.7],[18.34,2.83,2.1,1.8],[18.45,2.57,2.1],[18.55,2.66,2.2,1.7],[18.7,2,1.6],[18.87,2.33,2,1.6],
[19.2,1.2,.9],[19.3,2.15,1.4],[19.6,2.96,1.4],[19.73,2.33,1.5],[19.9,1.2],
[20.05,3.03,1.9,1.4],[20.19,2.92,2.38,1.8],[20.24,2.77,1.5],[20.5,1.6,1.2],[20.7,2,1.6],[20.85,1.9,1.5],
[21.23,2.2,1.8],[21.5,2.2,1.9],[21.73,3.73,2.5,2.1],[21.97,1.2,.8,.4],
[22.35,1.3,.9],[22.55,1.72,1.3,.9],[22.7,1.4,1.1],[22.86,2.31,1.8,1.4],[22.96,2.05]
];

var humanEmmaxDots = [
[1.05,2,1.6,1.3],[1.08,2.48,1.8],[1.15,1.9,1.4],[1.19,2.5,1.7],[1.23,2.82,2,1.4],[1.29,2.55,2.1,1.6],[1.34,3.7,3.62,3.25,3.15,2.2,1.7],[1.36,2.75,1.9],[1.43,2.23,1.9,1.4],
[1.6,1.9,1.5],[1.66,2.72,2.2,1.7],[1.72,2.1,1.6],[1.79,2.47,1.8],[1.89,2.55,1.7,1.4],[1.97,2.62,2.42,1.8],
[2.03,2.83,1.7,1.2],[2.12,2,1.5],[2.23,2.7,2.1,1.6],[2.32,2.36,2.1,1.5],[2.34,3.13,1.8],[2.45,1.8,1.4],[2.52,2.98,1.9,1.4],[2.6,2.2,1.7],[2.69,2.82,2.3,1.8],[2.7,3.67,3.62,2.1],[2.78,2.3,1.9,1.5],[2.86,3.38,3.25,2.2,1.6],[2.95,1.9,1.5],
[3.03,2.47,1.8,1.3],[3.05,2.95,2.82],[3.15,2.72,2.1,1.6],[3.18,3.2,2],[3.27,2.39,1.8,1.4],[3.32,3.05,1.7],[3.42,2.1,1.5],[3.55,2.2,1.7],[3.62,2.53,2.36,1.8],[3.72,2.2,1.5],[3.79,2.87,2.1,1.7],[3.82,2.47,1.9],[3.84,4.2],[3.93,2.1,1.5],
[4.06,2.62,1.8,1.3],[4.15,2,1.5],[4.25,2.52,1.8],[4.31,2.6,2.1,1.5],[4.37,3,2.2,1.7],[4.45,3.47,3.33,3.05,2.88,2.2],[4.52,2.78,2,1.5],[4.54,3.94],[4.65,2.2,1.6],[4.75,2.3,1.8,1.4],[4.82,1.9,1.5],[4.89,2.72,2,1.5],[4.96,2.62,2.1,1.6],
[5.03,2.43,1.8,1.4],[5.12,1.9,1.5],[5.2,2.2,1.7],[5.3,2.5,2,1.6],[5.42,2.2,1.7],[5.5,2.3,1.8],[5.58,3.47,2,1.6],[5.66,3,2.88,2.6,2.3,1.8],[5.78,2.1,1.7],[5.87,2.5,2,1.6],[5.98,3.15,3.04,2.55,1.7],
[6.05,2.1,1.6],[6.12,1.9,1.5],[6.19,2.92,2.3,1.7],[6.28,2.4,1.9,1.5],[6.38,2.2,1.7],[6.52,2.62,2.2,1.7],[6.59,3.2,3.07,2.88,2.3,1.8],[6.7,2.3,1.7],[6.79,4.98,4.02,2.5,1.8],[6.88,2,1.6],[6.97,3.1,2.7,2.2,1.7],
[7.1,1.9,1.5],[7.17,2.85,2.4],[7.24,3.56,1.9],[7.31,3.12,2.88,2.1],[7.43,2.8,1.8],[7.6,2.65,2.5,1.8],[7.72,1.7,1.3],[7.8,3.6,2.95,2.4,1.7],[7.92,1.9,1.4],
[8.05,2.4,1.9,1.3],[8.12,2.2,1.7],[8.18,4.67,4.2,3.7,2.7,2.5],[8.25,2.1,1.6],[8.37,1.9,1.4],[8.46,2.1,1.5],[8.55,2.8,2.2,1.6],[8.66,1.9,1.4],[8.72,2.7,2.1],[8.75,3.4,1.7],[8.9,2.62,2.1,1.6],
[9.09,2.88,1.5],[9.15,2.8,2,1.5],[9.2,2.62,2.4,1.7],[9.55,2.47,2,1.5],[9.57,2.98,2.82],[9.7,2,1.5],[9.9,3.63,1.4],
[10.05,2.3,1.7,1.3],[10.15,2,1.5],[10.32,2.4,1.8],[10.46,2.55,2,1.5],[10.58,2.2,1.7],[10.72,2.47,1.9,1.5],[10.9,2.55,2.1,1.6],[10.94,2.82],
[11.12,3.5,2,1.6],[11.25,3.27,3.17,2.62,2.1,1.7],[11.34,2.62,1.9],[11.5,1.8,1.4],[11.62,2.5,2,1.6],[11.78,2.1,1.6],[11.91,3.56,2,1.5],[11.96,3.37,1.8],
[12,2.9,2.4],[12.15,3.1,2.58,2.2,1.6],[12.21,2.58,2],[12.35,2.3,1.7],[12.44,2.95,2.2,1.6],[12.55,2.2,1.7],[12.75,2.82,2.1,1.7],[12.87,2.43,2,1.6],[12.95,3.18,2.8,1.9],
[13.23,2.47,2,1.6],[13.4,2.1,1.7],[13.53,2.7,2.3,1.8],[13.7,2.3,1.9],[13.83,2.62,2.1],[13.88,2.43,1.8],
[14.11,2.8,1.9,1.4],[14.22,3.4,3.15,2.4],[14.3,2.85,2,1.6],[14.44,2.8,1.9],[14.6,1.8,1.4],[14.72,2.53,2,1.6],[14.74,4.02,3.27,2.4],[14.88,1.7,1.3],
[15.17,2.75,2.5,1.4],[15.31,2.4,1.7],[15.45,1.7,1.3],[15.57,2.88,1.9,1.5],[15.72,1.8,1.4],[15.86,2.53,1.6],
[16.1,1.3,.9],[16.23,2.66,2.52,2.36,1.2],[16.55,1.5,1.1],[16.62,3.2,3,2.3,1.7],[16.8,1.7,1.2],[16.92,3.6,2.3,1.6],
[17,3.3,3.2],[17.2,2,1.5],[17.32,2.27,1.8],[17.5,1.7,1.2],[17.7,1.6,1.2],[17.85,2.82,1.5],
[18.12,1.9,1.5],[18.28,2.8,2.17,1.7],[18.45,2.1,1.7],[18.67,2.6,2.1,1.7],[18.8,3.2,3.08,2.9,2],
[19.15,1.2,.9],[19.27,2.82,2.33,1.5],[19.32,3.2],[19.68,2.85,1.3],[19.73,1.9,1.4],
[20.12,1.6,1.2],[20.26,2.8,1.9],[20.32,3.2,2.3],[20.66,2.62,2.1,1.6],[20.79,3.04,1.9,1.5],
[21.1,1.9,1.5],[21.23,2.5,2.36,1.7],[21.5,2,1.7],[21.68,2.82,1.9],[21.97,1.1,.7,.4],
[22.27,1.7,1.2],[22.52,1.7,1.3,.9],[22.7,1.2,.8],[22.97,2.88]
];

var panels = [
  {id:"A", title:"SUPER", titleX:347, titleY:91, fdr:"FDR=0.0005", fdrY:130, pts:mouseSuper.concat(mouseSuperLow), len:mouseLen, labels:mouseLabels, red:4.78, blue:6.5, blueW:1.4,
   left:57, right:650.7, top:72.7, bottom:309, y0:302.3, x0:73.3, x1:633.7, letterX:11, letterY:85, tickUp:327, tickDown:333, chromX:353, chromY:352.5, r:1.75,
   genes:[["Pitpnm2",270,140],["Rsrc2",270,157.5]]},
  {id:"B", title:"EMMAX", titleX:353, titleY:392, fdr:"FDR=0.11", fdrY:471, pts:mouseEmmax.concat(mouseEmmaxLow), len:mouseLen, labels:mouseLabels, red:4.78, blue:4.25, blueW:1.4,
   left:57, right:650.7, top:371.7, bottom:608.7, y0:602, x0:73.3, x1:633.7, letterX:11, letterY:383, tickUp:627, tickDown:633, chromX:353, chromY:652, r:1.75, genes:[]},
  {id:"C", title:"FaST-LMM-Select", titleX:397, titleY:688, fdr:"FDR=0.34", fdrY:767, pts:mouseFast.concat(mouseFastLow), len:mouseLen, labels:mouseLabels, red:4.78, blue:3.83, blueW:2.2,
   left:56, right:649.3, top:668, bottom:904.7, y0:897.7, x0:72.7, x1:632.7, letterX:11, letterY:679, tickUp:923, tickDown:929, chromX:352, chromY:948, r:1.75, genes:[]},
  {id:"D", title:"SUPER", titleX:1017, titleY:91, fdr:"FDR=0.07", fdrY:130, pts:humanSuperDots, bands:humanSuperBands, len:humanLen, labels:humanLabels, red:6.06, blue:5.69, blueW:2.2,
   left:726.3, right:1322, top:72.7, bottom:309, y0:302.3, x0:742.7, x1:1303.7, letterX:681, letterY:85, tickUp:327, tickDown:333, chromX:1023, chromY:352.5, r:.85,
   genes:[["CACNA1D",854,157]]},
  {id:"E", title:"EMMAX", titleX:1023, titleY:391, fdr:"FDR=0.61", fdrY:429, pts:humanEmmaxDots, bands:humanEmmaxBands, len:humanLen, labels:humanLabels, red:6.06, blue:4.98, blueW:1.4,
   left:725.3, right:1322, top:372, bottom:608.7, y0:602, x0:741.7, x1:1303, letterX:681, letterY:383, tickUp:627, tickDown:633, chromX:1022, chromY:652, r:.85, genes:[]}
];

var RED = "#ff0000", BLUE = "#0000ff", AXIS = "#6e6e6e", INK = "#333";

var svg = d3.select("#chart").append("svg").attr("width", 1319).attr("height", 950).style("display", "block");

// thinning scatter above the solid mass: fade plus a grain texture, this is styling of the band only
var defs = svg.append("defs");
[["fadeRed", RED, "grainRed"], ["fadeBlue", BLUE, "grainBlue"]].forEach(function (g) {
  var grad = defs.append("linearGradient").attr("id", g[0]).attr("x1", 0).attr("y1", 1).attr("x2", 0).attr("y2", 0);
  grad.append("stop").attr("offset", 0).attr("stop-color", g[1]).attr("stop-opacity", 1);
  grad.append("stop").attr("offset", .5).attr("stop-color", g[1]).attr("stop-opacity", .58);
  grad.append("stop").attr("offset", 1).attr("stop-color", g[1]).attr("stop-opacity", .14);

  var f = defs.append("filter").attr("id", g[2]).attr("x", 0).attr("y", 0).attr("width", 1).attr("height", 1)
    .attr("color-interpolation-filters", "sRGB");
  f.append("feTurbulence").attr("type", "fractalNoise").attr("baseFrequency", .75).attr("numOctaves", 2).attr("seed", 4).attr("result", "n");
  f.append("feColorMatrix").attr("in", "n").attr("type", "matrix")
    .attr("values", "0 0 0 0 0  0 0 0 0 0  0 0 0 0 0  2.6 0 0 0 -.8").attr("result", "a");
  f.append("feComposite").attr("in", "SourceAlpha").attr("in2", "a").attr("operator", "arithmetic")
    .attr("k1", 0).attr("k2", 1).attr("k3", 1).attr("k4", -1).attr("result", "s");
  f.append("feComponentTransfer").attr("in", "s").attr("result", "t")
    .append("feFuncA").attr("type", "linear").attr("slope", 5);
  f.append("feFlood").attr("flood-color", g[1]).attr("result", "c");
  f.append("feComposite").attr("in", "c").attr("in2", "t").attr("operator", "in");
});

svg.selectAll("text.head").data([["Mouse", 348], ["Human", 1017]]).enter().append("text")
  .attr("class", "head").attr("x", function (d) { return d[1]; }).attr("y", 33)
  .attr("text-anchor", "middle").style("font-family", "Lato, sans-serif").style("font-size", "32px").attr("fill", "#222")
  .text(function (d) { return d[0]; });

panels.forEach(function (p) {
  var g = svg.append("g");
  var starts = [0];
  p.len.forEach(function (l) { starts.push(starts[starts.length - 1] + l); });
  var x = d3.scaleLinear().domain([0, starts[starts.length - 1]]).range([p.x0, p.x1]);
  var y = d3.scaleLinear().domain([0, 9]).range([p.y0, p.top]);
  var pos = function (v) {
    var c = Math.floor(v);
    return starts[c - 1] + (v - c) * p.len[c - 1];
  };
  var isRed = function (v) { return Math.floor(v) % 2 == 1; };

  // dense masses, human panels only
  (p.bands || []).forEach(function (b) {
    var red = isRed(b[0]);
    var bx = x(pos(b[0])), bw = x(pos(b[1])) - bx;
    g.append("rect").attr("x", bx).attr("width", bw)
      .attr("y", y(b[2]) + 3).attr("height", y(0) - y(b[2]) - 2).attr("fill", red ? RED : BLUE);
    g.append("rect").attr("x", bx).attr("width", bw)
      .attr("y", y(b[3])).attr("height", y(b[2]) - y(b[3]) + 4)
      .attr("fill", red ? "url(#fadeRed)" : "url(#fadeBlue)")
      .attr("filter", red ? "url(#grainRed)" : "url(#grainBlue)");
  });

  // flatten stacks into points
  var flat = [];
  p.pts.forEach(function (col) {
    col.slice(1).forEach(function (v) { flat.push({x: col[0], y: v}); });
  });
  g.selectAll("circle").data(flat).enter().append("circle")
    .attr("cx", function (d) { return x(pos(d.x)); })
    .attr("cy", function (d) { return y(d.y); })
    .attr("r", p.r)
    .attr("fill", function (d) { return isRed(d.x) ? RED : BLUE; });

  // threshold lines
  g.append("line").attr("x1", p.left).attr("x2", p.right).attr("y1", y(p.red)).attr("y2", y(p.red))
    .attr("stroke", "#f25a5a").attr("stroke-width", 1.4);
  g.append("line").attr("x1", p.left).attr("x2", p.right).attr("y1", y(p.blue)).attr("y2", y(p.blue))
    .attr("stroke", p.blueW > 2 ? "#7272f4" : "#5a5af2").attr("stroke-width", p.blueW);

  // box
  g.append("path").attr("fill", "none").attr("stroke", AXIS).attr("stroke-width", 1.5)
    .attr("d", "M" + p.right + "," + p.top + "H" + p.left + "V" + p.bottom + "H" + p.right + (p.right < 1319 ? "V" + p.top : ""));

  // y axis
  var ay = g.append("g").attr("transform", "translate(" + p.left + ",0)")
    .call(d3.axisLeft(y).tickValues(d3.range(0, 10)).tickSize(6).tickPadding(7)
      .tickFormat(function (d) { return d % 2 == 0 ? d : ""; }));
  ay.select(".domain").remove();
  ay.selectAll("line").attr("stroke", AXIS).attr("stroke-width", 1.1);
  ay.selectAll("text").attr("fill", INK).style("font-size", "10.5px");

  // x axis, labels staggered below
  var ax = g.append("g").attr("transform", "translate(0," + p.bottom + ")")
    .call(d3.axisBottom(x).tickValues(starts).tickSize(6).tickFormat(""));
  ax.select(".domain").remove();
  ax.selectAll("line").attr("stroke", AXIS).attr("stroke-width", 1.1);

  g.selectAll("text.chr").data(p.labels).enter().append("text").attr("class", "chr")
    .attr("x", function (c) { return x(starts[c - 1]); })
    .attr("y", function (c) { return c % 2 == 1 ? p.tickUp : p.tickDown; })
    .attr("text-anchor", "middle").attr("fill", INK).style("font-size", "10.5px")
    .text(function (c) { return c; });

  g.append("text").attr("x", p.chromX).attr("y", p.chromY).attr("text-anchor", "middle")
    .attr("fill", INK).style("font-size", "9.4px").text("Chromosome");

  // y label
  var yl = g.append("text").attr("text-anchor", "middle").attr("fill", INK).style("font-size", "10.5px")
    .attr("transform", "translate(" + (p.left - 37) + "," + y(4.4) + ") rotate(-90)");
  yl.append("tspan").text("\u2212log");
  yl.append("tspan").attr("dy", 2).style("font-size", "7.5px").text("10");
  yl.append("tspan").attr("dy", -2).text("(");
  yl.append("tspan").style("font-style", "italic").text("p");
  yl.append("tspan").text(")");

  // panel texts
  g.append("text").attr("x", p.letterX).attr("y", p.letterY).attr("fill", "#111")
    .style("font-size", "15px").style("font-weight", "bold").text(p.id);
  g.append("text").attr("x", p.titleX).attr("y", p.titleY).attr("text-anchor", "middle").attr("fill", "#222")
    .style("font-family", "'Liberation Serif', serif").style("font-size", "15px").style("font-weight", "bold").text(p.title);
  g.append("text").attr("x", p.id < "D" ? 500 : 1170).attr("y", p.fdrY).attr("fill", "#222")
    .style("font-size", "11.2px").style("font-weight", "bold").text(p.fdr);
  p.genes.forEach(function (a) {
    g.append("text").attr("x", a[1]).attr("y", a[2]).attr("fill", "#222")
      .style("font-size", "11.4px").style("font-weight", "bold").text(a[0]);
  });
});
</script>
</body>
</html>
